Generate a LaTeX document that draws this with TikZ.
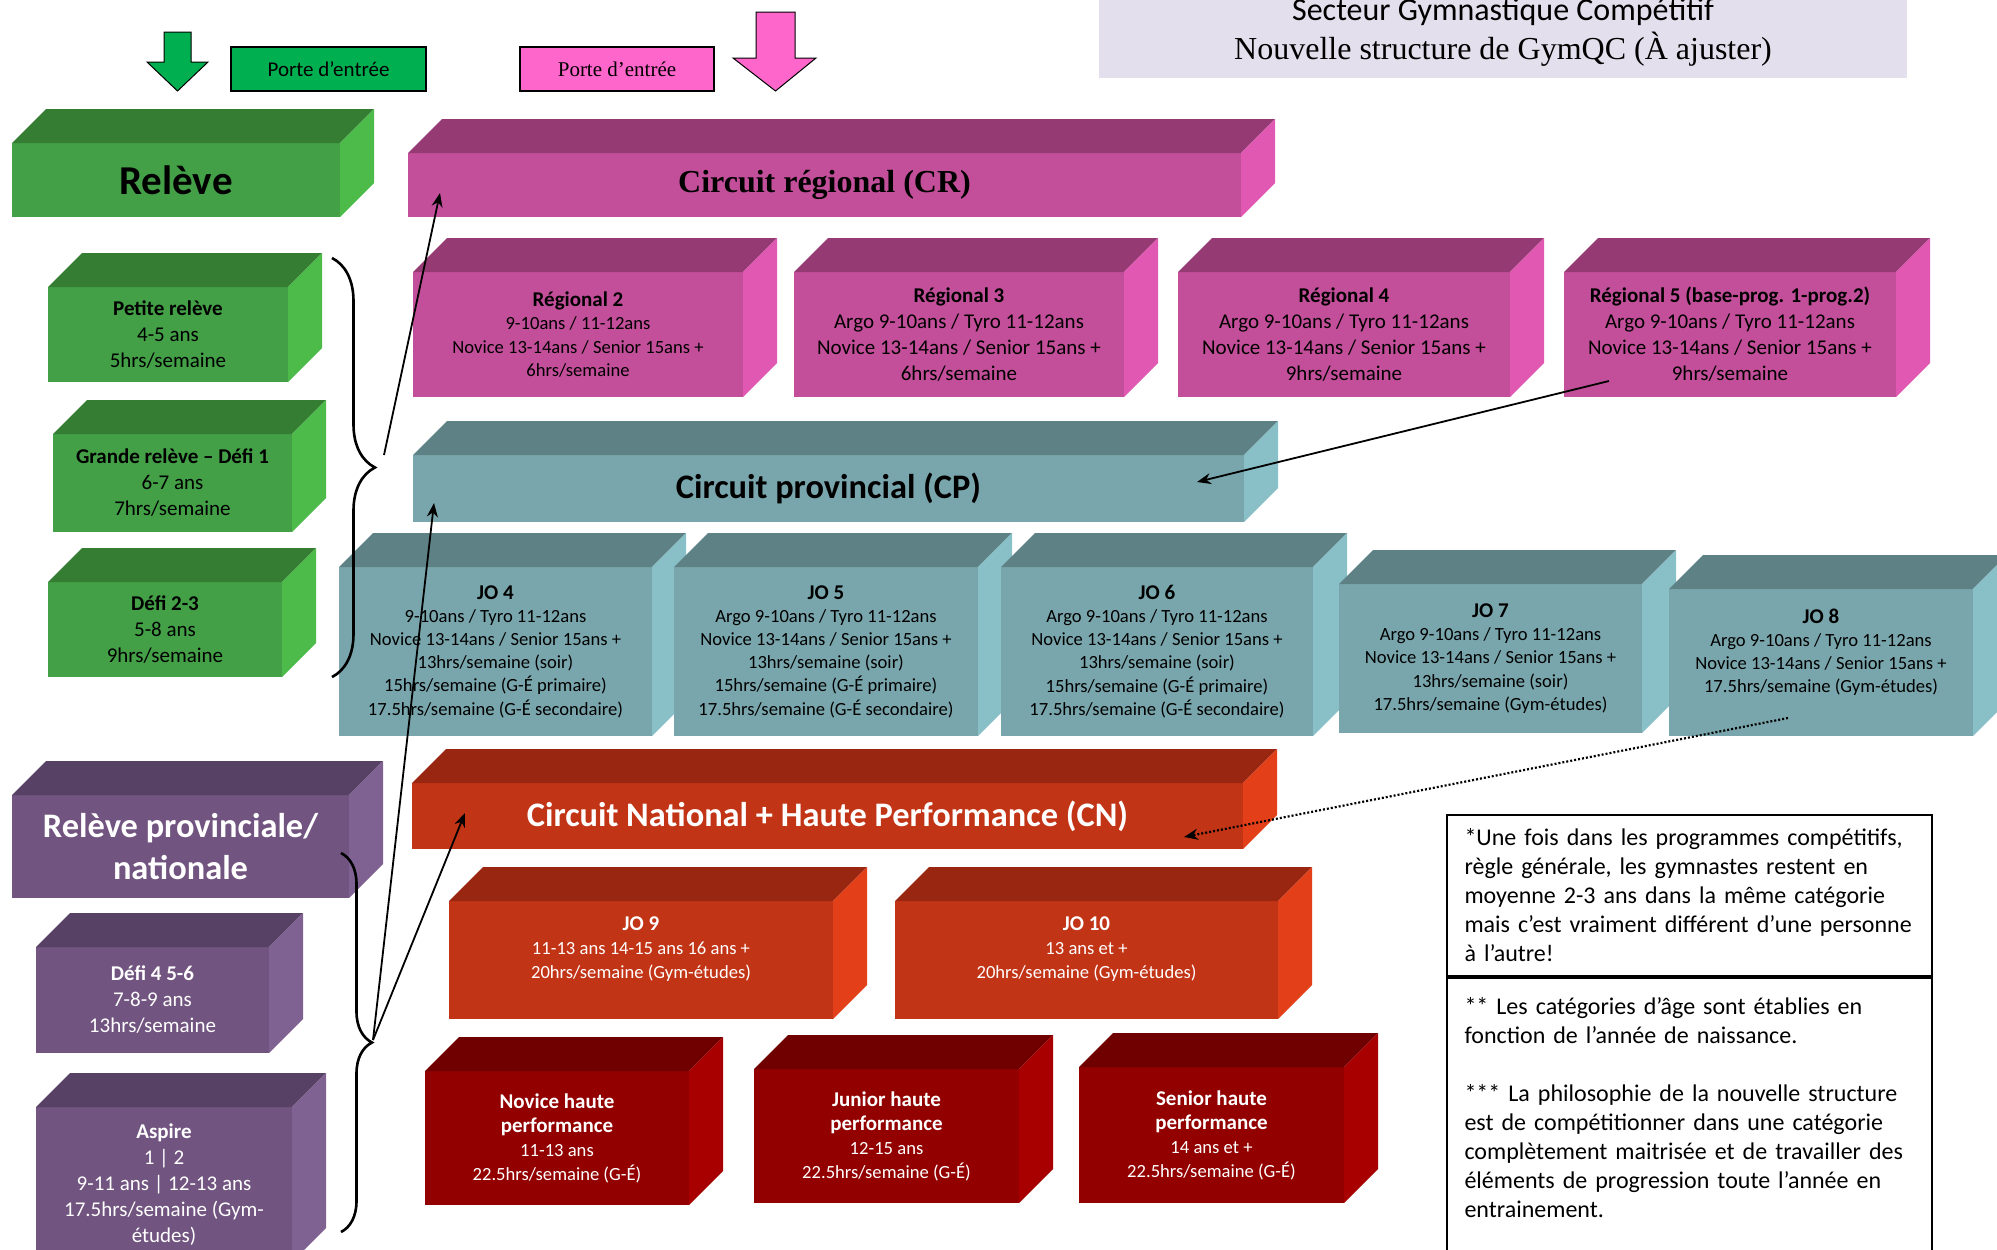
\documentclass[tikz,border=0pt]{standalone}
\usepackage{fontspec}
\setmainfont{Carlito}
\newfontfamily\romain{Liberation Serif}
\usetikzlibrary{arrows.meta,decorations.pathreplacing}
\definecolor{verteFront}{RGB}{67,160,71}
\definecolor{verteTop}{RGB}{54,125,52}
\definecolor{verteSide}{RGB}{77,187,74}
\definecolor{roseeFront}{RGB}{195,79,154}
\definecolor{roseeTop}{RGB}{150,58,116}
\definecolor{roseeSide}{RGB}{224,88,178}
\definecolor{bleueFront}{RGB}{121,166,172}
\definecolor{bleueTop}{RGB}{94,129,133}
\definecolor{bleueSide}{RGB}{137,191,199}
\definecolor{rougeFront}{RGB}{194,52,22}
\definecolor{rougeTop}{RGB}{152,38,16}
\definecolor{rougeSide}{RGB}{227,64,26}
\definecolor{bordeauxFront}{RGB}{146,0,0}
\definecolor{bordeauxTop}{RGB}{112,0,0}
\definecolor{bordeauxSide}{RGB}{168,0,0}
\definecolor{mauveFront}{RGB}{113,84,127}
\definecolor{mauveTop}{RGB}{87,65,100}
\definecolor{mauveSide}{RGB}{128,98,146}
\definecolor{portevert}{RGB}{0,176,80}
\definecolor{porterose}{RGB}{255,102,204}
\definecolor{titrefond}{RGB}{228,223,236}
\newcommand{\petit}{\fontsize{9.3}{11.6}\selectfont}
\newcommand{\jotexte}{\fontsize{9.3}{12}\selectfont}
\newcommand{\moyen}{\fontsize{10.5}{13}\selectfont}
\newcommand{\grand}{\bfseries\fontsize{17.2}{21}\selectfont}
\newcommand{\titrebloc}[1]{{\moyen\textbf{#1}}}
% front face as a node, then top and side faces
\newcommand{\bloc}[8]{%
  \node[devant,#6,font=#7,minimum width={(#4-#2)*0.5pt},minimum height={(#5-#3)*0.5pt}] (#1) at ({(#2+#4)/2},{(#3+#5)/2}) {#8};
  \fill[#6Top] (#1.north west) -- ++(34,-34) -- ([shift={(34,-34)}]#1.north east) -- (#1.north east) -- cycle;
  \fill[#6Side] (#1.north east) -- ++(34,-34) -- ([shift={(34,-34)}]#1.south east) -- (#1.south east) -- cycle;}

\begin{document}
\begin{tikzpicture}[x=0.5pt,y=-0.5pt,
    devant/.style={draw=none,inner sep=0pt,outer sep=0pt,align=center},
    verte/.style={fill=verteFront},
    rosee/.style={fill=roseeFront},
    bleue/.style={fill=bleueFront},
    rouge/.style={fill=rougeFront,text=white},
    bordeaux/.style={fill=bordeauxFront,text=white},
    mauve/.style={fill=mauveFront,text=white},
    fleche/.style={-{Stealth[length=7pt,width=5.5pt]},line width=0.9pt},
    accolade/.style={decorate,line width=1.3pt},
    porte/.style={draw,line width=0.6pt,minimum height=22pt,inner sep=0pt},
    note/.style={draw,line width=1pt,anchor=north west,align=left,text width=225pt,inner xsep=8.75pt,inner ysep=0pt,minimum width=242.5pt,font=\fontsize{12}{14.5}\selectfont}]
  \useasboundingbox (0,0) rectangle (1997,1249);

  % title and entry doors
  \node[fill=titrefond,minimum width=404pt,minimum height=45.5pt,inner sep=0pt,align=center,font=\fontsize{16}{19.5}\selectfont] (titre) at (1503,32.5) {Secteur Gymnastique Compétitif\\{\romain Nouvelle structure de GymQC (À ajuster)}};
  \filldraw[fill=portevert,line width=0.5pt] (164,32) -- (191,32) -- (191,62) -- (208,62) -- (177.5,91) -- (147,62) -- (164,62) -- cycle;
  \node[porte,fill=portevert,minimum width=97.5pt,font=\moyen] (porte1) at (328.5,69) {Porte d’entrée};
  \node[porte,fill=porterose,minimum width=97pt,font=\romain\moyen] (porte2) at (617,69) {Porte d’entrée};
  \filldraw[fill=porterose,line width=0.5pt] (756,12) -- (795,12) -- (795,58) -- (816,58) -- (775.5,91) -- (733,58) -- (756,58) -- cycle;

  % releve
  \bloc{releve}{12}{143}{340}{217}{verte}{\bfseries\fontsize{20.5}{24}\selectfont}{Relève}
  \bloc{petite}{48}{287}{288}{382}{verte}{\moyen}{\textbf{Petite relève}\\4-5 ans\\5hrs/semaine}
  \bloc{grande}{53}{434}{292}{532}{verte}{\moyen}{\textbf{Grande relève – Défi 1}\\6-7 ans\\7hrs/semaine}
  \bloc{defi23}{48}{582}{282}{677}{verte}{\moyen}{\textbf{Défi 2-3}\\5-8 ans\\9hrs/semaine}

  % circuit regional
  \bloc{cr}{408}{153}{1241}{217}{rosee}{\romain\bfseries\fontsize{16}{19}\selectfont}{Circuit régional (CR)}
  \bloc{r2}{413}{272}{743}{397}{rosee}{\petit}{\titrebloc{Régional 2}\\9-10ans / 11-12ans\\Novice 13-14ans / Senior 15ans +\\6hrs/semaine}
  \bloc{r3}{794}{272}{1124}{397}{rosee}{\moyen}{\textbf{Régional 3}\\Argo 9-10ans / Tyro 11-12ans\\Novice 13-14ans / Senior 15ans +\\6hrs/semaine}
  \bloc{r4}{1178}{272}{1510}{397}{rosee}{\moyen}{\textbf{Régional 4}\\Argo 9-10ans / Tyro 11-12ans\\Novice 13-14ans / Senior 15ans +\\9hrs/semaine}
  \bloc{r5}{1564}{272}{1896}{397}{rosee}{\moyen}{\textbf{Régional 5 (base-prog. 1-prog.2)}\\Argo 9-10ans / Tyro 11-12ans\\Novice 13-14ans / Senior 15ans +\\9hrs/semaine}

  % circuit provincial
  \bloc{cp}{413}{455}{1244}{522}{bleue}{\grand}{Circuit provincial (CP)}
  \bloc{jo4}{339}{567}{652}{736}{bleue}{\petit}{\titrebloc{JO 4}\\9-10ans / Tyro 11-12ans\\Novice 13-14ans / Senior 15ans +\\13hrs/semaine (soir)\\15hrs/semaine (G-É primaire)\\17.5hrs/semaine (G-É secondaire)}
  \bloc{jo5}{674}{567}{978}{736}{bleue}{\petit}{\titrebloc{JO 5}\\Argo 9-10ans / Tyro 11-12ans\\Novice 13-14ans / Senior 15ans +\\13hrs/semaine (soir)\\15hrs/semaine (G-É primaire)\\17.5hrs/semaine (G-É secondaire)}
  \bloc{jo6}{1001}{567}{1313}{736}{bleue}{\petit}{\titrebloc{JO 6}\\Argo 9-10ans / Tyro 11-12ans\\Novice 13-14ans / Senior 15ans +\\13hrs/semaine (soir)\\15hrs/semaine (G-É primaire)\\17.5hrs/semaine (G-É secondaire)}
  \bloc{jo7}{1339}{584}{1642}{733}{bleue}{\petit}{\titrebloc{JO 7}\\Argo 9-10ans / Tyro 11-12ans\\Novice 13-14ans / Senior 15ans +\\13hrs/semaine (soir)\\17.5hrs/semaine (Gym-études)}
  \bloc{jo8}{1669}{589}{1973}{736}{bleue}{\petit}{\titrebloc{JO 8}\\Argo 9-10ans / Tyro 11-12ans\\Novice 13-14ans / Senior 15ans +\\17.5hrs/semaine (Gym-études)\\~}

  % circuit national
  \bloc{cn}{412}{783}{1243}{849}{rouge}{\grand}{Circuit National + Haute Performance (CN)}
  \bloc{jo9}{449}{901}{833}{1019}{rouge}{\jotexte}{\titrebloc{JO 9}\\11-13 ans 14-15 ans 16 ans +\\20hrs/semaine (Gym-études)\\~}
  \bloc{jo10}{895}{901}{1278}{1019}{rouge}{\jotexte}{\titrebloc{JO 10}\\13 ans et +\\20hrs/semaine (Gym-études)\\~}
  \bloc{novice}{425}{1071}{689}{1205}{bordeaux}{\jotexte}{\titrebloc{Novice haute}\\\titrebloc{performance}\\11-13 ans\\22.5hrs/semaine (G-É)}
  \bloc{junior}{754}{1069}{1019}{1203}{bordeaux}{\jotexte}{\titrebloc{Junior haute}\\\titrebloc{performance}\\12-15 ans\\22.5hrs/semaine (G-É)}
  \bloc{senior}{1079}{1067}{1344}{1203}{bordeaux}{\jotexte}{\titrebloc{Senior haute}\\\titrebloc{performance}\\14 ans et +\\22.5hrs/semaine (G-É)}

  % releve provinciale
  \bloc{relpn}{12}{795}{349}{898}{mauve}{\grand}{Relève provinciale/\\nationale}
  \bloc{defi456}{36}{947}{269}{1053}{mauve}{\moyen}{\textbf{Défi 4 5-6}\\7-8-9 ans\\13hrs/semaine}
  \bloc{aspire}{36}{1107}{292}{1262}{mauve}{\moyen}{\textbf{Aspire}\\1 | 2\\9-11 ans | 12-13 ans\\17.5hrs/semaine (Gym-\\études)}

  % notes
  \node[note,minimum height=80.5pt] (note1) at (1446,814) {*Une fois dans les programmes compétitifs,\\règle générale, les gymnastes restent en\\moyenne 2-3 ans dans la même catégorie\\mais c’est vraiment différent d’une personne\\à l’autre!};
  \node[note,minimum height=143.5pt] (note2) at (note1.south west) {** Les catégories d’âge sont établies en\\fonction de l’année de naissance.\\~\\{}*** La philosophie de la nouvelle structure\\est de compétitionner dans une catégorie\\complètement maitrisée et de travailler des\\éléments de progression toute l’année en\\entrainement.\\~};

  % braces and arrows
  \draw[accolade,decoration={brace,amplitude=21.5pt}] (332,258) -- (332,677);
  \draw[accolade,decoration={brace,amplitude=15.5pt}] (341,853) -- (341,1232);
  \coordinate (pointe-verte) at (384,455);
  \coordinate (pointe-mauve) at (373,1040);
  \draw[fleche] (pointe-verte) -- ([shift={(32,-24)}]cr.south west);
  \draw[fleche] (pointe-mauve) -- ([shift={(21,-19)}]cp.south west);
  \draw[fleche] (pointe-mauve) -- ([shift={(53,-36)}]cn.south west);
  \draw[fleche] ([shift={(45,-16)}]r5.south west) -- ([shift={(-47,-40)}]cp.south east);
  \draw[fleche,dash pattern=on 1pt off 1pt,line width=1.1pt] ([shift={(119,-18)}]jo8.south west) -- ([shift={(-59,-12)}]cn.south east);
\end{tikzpicture}
\end{document}
